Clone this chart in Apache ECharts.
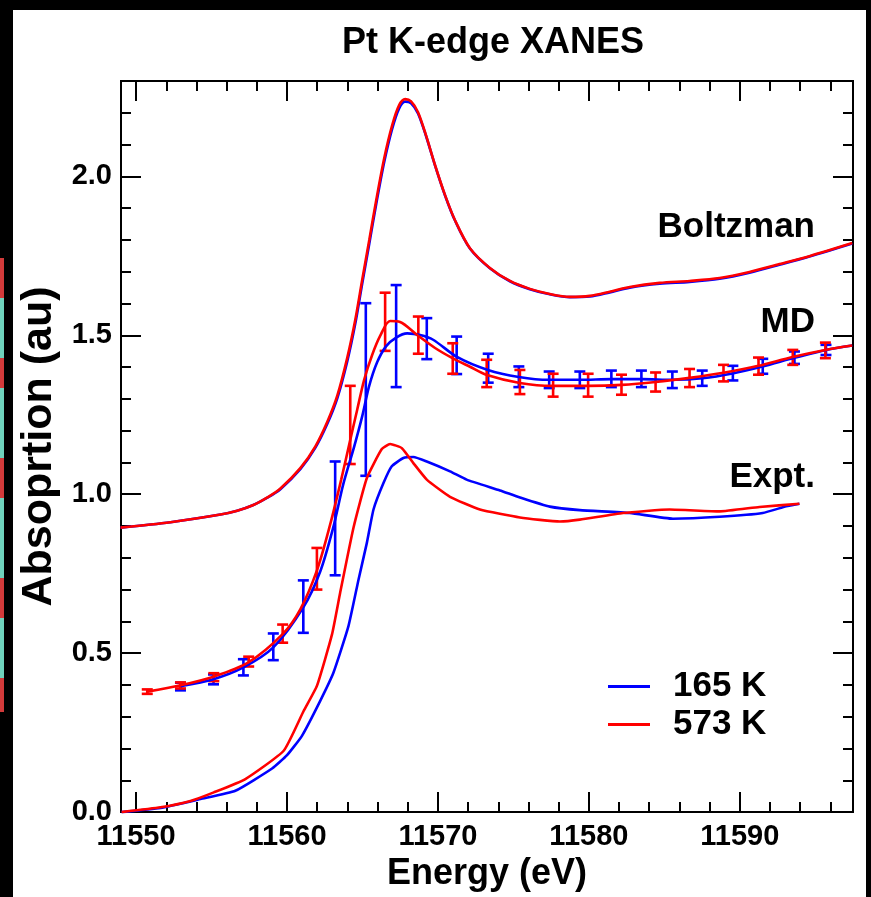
<!DOCTYPE html>
<html><head><meta charset="utf-8">
<script src="https://cdn.jsdelivr.net/npm/echarts@6/dist/echarts.min.js"></script>
<style>html,body{margin:0;padding:0;background:#fff}#c{width:871px;height:897px}</style>
</head><body><div id="c"></div>
<script>
// ---------- tick values ----------
const xMajorTicks = [11550, 11560, 11570, 11580, 11590];
const xMinorTicks = [11550,11552,11554,11556,11558,11560,11562,11564,11566,11568,11570,11572,11574,11576,11578,11580,11582,11584,11586,11588,11590,11592,11594,11596];
const yMajorTicks = [0, 0.5, 1.0, 1.5, 2.0];
const yMinorTicks = [0,0.1,0.2,0.3,0.4,0.5,0.6,0.7,0.8,0.9,1.0,1.1,1.2,1.3,1.4,1.5,1.6,1.7,1.8,1.9,2.0,2.1,2.2,2.3];

// ---------- Boltzman ----------
const boltzE = [11548.97,11552.28,11555.59,11556.70,11557.77,11558.70,11559.56,11560.88,11561.87,11562.67,11563.33,11563.99,11564.52,11564.98,11565.45,11565.91,11566.44,11566.97,11567.43,11567.83,11568.22,11568.68,11569.21,11569.81,11570.47,11571.13,11572.12,11573.44,11574.77,11576.09,11577.41,11578.74,11580.06,11581.38,11582.71,11584.69,11586.67,11588.66,11590.64,11592.63,11594.61,11597.45];
const boltzRed = [0.895,0.912,0.936,0.948,0.966,0.990,1.018,1.082,1.150,1.228,1.310,1.429,1.548,1.674,1.800,1.925,2.057,2.161,2.224,2.243,2.236,2.202,2.129,2.035,1.941,1.862,1.774,1.712,1.671,1.646,1.630,1.621,1.624,1.637,1.652,1.665,1.671,1.680,1.699,1.724,1.749,1.790];
const boltzBlue = [0.895,0.912,0.936,0.948,0.966,0.989,1.016,1.079,1.146,1.222,1.302,1.418,1.536,1.662,1.788,1.913,2.045,2.150,2.214,2.235,2.230,2.198,2.127,2.034,1.940,1.861,1.773,1.711,1.670,1.645,1.629,1.620,1.622,1.635,1.650,1.662,1.668,1.678,1.697,1.722,1.748,1.789];

// ---------- MD ----------
const mdRedE = [11550.74,11552.94,11555.13,11557.44,11559.69,11560.88,11562.00,11562.86,11563.59,11564.19,11564.65,11565.11,11565.64,11566.17,11566.83,11567.49,11568.62,11569.81,11570.93,11572.12,11573.25,11575.43,11577.61,11579.93,11582.18,11584.42,11586.67,11588.92,11591.24,11593.49,11595.67,11597.45];
const mdRed = [0.379,0.399,0.426,0.471,0.559,0.638,0.763,0.905,1.046,1.171,1.266,1.360,1.438,1.498,1.545,1.542,1.501,1.460,1.429,1.401,1.375,1.350,1.341,1.341,1.344,1.353,1.366,1.382,1.404,1.432,1.454,1.468];
const mdBlueE = [11552.94,11555.13,11557.11,11559.09,11561.08,11562.20,11563.06,11563.72,11564.45,11564.98,11565.44,11565.97,11566.57,11567.23,11567.96,11568.82,11569.68,11571.26,11573.31,11575.36,11577.35,11579.40,11581.51,11583.50,11585.55,11587.53,11589.52,11591.50,11593.62,11595.73,11597.45];
const mdBlue = [0.396,0.418,0.455,0.518,0.644,0.757,0.895,1.030,1.150,1.245,1.340,1.415,1.466,1.493,1.506,1.501,1.486,1.432,1.391,1.369,1.360,1.360,1.362,1.362,1.360,1.365,1.380,1.402,1.429,1.454,1.468];

// ---------- MD error bars (low, high) ----------
const errBlueE = [11552.94,11555.13,11557.11,11559.09,11561.08,11563.19,11565.22,11567.23,11569.26,11571.24,11573.33,11575.36,11577.37,11579.40,11581.49,11583.48,11585.53,11587.51,11589.54,11591.52,11593.62,11595.71];
const errBlueLow = [0.383,0.402,0.430,0.478,0.564,0.745,1.058,1.337,1.425,1.378,1.351,1.337,1.334,1.334,1.337,1.337,1.334,1.341,1.358,1.379,1.410,1.438];
const errBlueHigh = [0.407,0.433,0.481,0.562,0.729,1.103,1.601,1.658,1.554,1.496,1.442,1.402,1.386,1.386,1.389,1.389,1.386,1.389,1.404,1.426,1.449,1.470];
const errRedE = [11550.74,11552.94,11555.15,11557.46,11559.71,11561.98,11564.19,11566.50,11568.70,11570.98,11573.23,11575.43,11577.63,11579.95,11582.16,11584.42,11586.67,11588.92,11591.24,11593.51,11595.67];
const errRedLow = [0.372,0.389,0.412,0.458,0.533,0.700,1.095,1.451,1.442,1.379,1.337,1.315,1.307,1.307,1.313,1.323,1.337,1.355,1.376,1.407,1.428];
const errRedHigh = [0.386,0.408,0.437,0.489,0.590,0.831,1.341,1.634,1.559,1.475,1.423,1.391,1.379,1.379,1.376,1.383,1.394,1.407,1.430,1.454,1.477];

// ---------- Expt ----------
const exptBlueE = [11549.04,11551.62,11554.27,11556.58,11559.01,11560.00,11560.99,11562.20,11563.08,11564.07,11564.74,11565.29,11565.73,11566.39,11566.94,11567.71,11568.37,11569.26,11570.80,11571.90,11574.11,11575.43,11577.41,11579.40,11582.71,11585.57,11588.66,11591.52,11593.07,11593.95];
const exptBlue = [0.000,0.013,0.041,0.067,0.137,0.179,0.240,0.350,0.439,0.585,0.732,0.847,0.952,1.035,1.088,1.114,1.117,1.103,1.072,1.046,1.012,0.990,0.961,0.950,0.941,0.923,0.929,0.941,0.962,0.970];
const exptRedE = [11549.04,11551.62,11553.60,11555.15,11557.24,11559.78,11561.10,11561.98,11562.98,11563.52,11564.40,11565.29,11566.28,11566.83,11567.61,11568.37,11569.26,11570.80,11572.78,11575.43,11578.08,11579.40,11582.26,11585.35,11588.66,11591.30,11593.95];
const exptRed = [0.000,0.015,0.035,0.062,0.104,0.193,0.318,0.397,0.559,0.690,0.894,1.051,1.142,1.158,1.145,1.098,1.046,0.992,0.952,0.927,0.914,0.920,0.941,0.952,0.946,0.960,0.970];

const BLUE = '#0000ff', RED = '#ff0000';
const FONT = '"Liberation Sans", Arial, Helvetica, sans-serif';
const zip = (xs, ys) => xs.map((x, i) => [x, ys[i]]);
const zip3 = (xs, a, b) => xs.map((x, i) => [x, a[i], b[i]]);

function lineSeries(name, color, xs, ys, smooth) {
  return { type: 'line', name: name, color: color, data: zip(xs, ys), showSymbol: false, symbol: 'none',
    smooth: smooth, lineStyle: { color: color, width: 2.6 }, animation: false, silent: true, xAxisIndex: 0, yAxisIndex: 0 };
}
function errSeries(name, color, xs, lo, hi) {
  return { type: 'custom', name: name, color: color, data: zip3(xs, lo, hi), xAxisIndex: 0, yAxisIndex: 0,
    encode: { x: 0, y: [1, 2] }, animation: false, silent: true,
    renderItem: function (params, api) {
      const x = api.value(0);
      const a = api.coord([x, api.value(1)]);
      const b = api.coord([x, api.value(2)]);
      const w = 5.5;
      const st = { stroke: color, lineWidth: 2.6 };
      return { type: 'group', children: [
        { type: 'line', shape: { x1: a[0], y1: a[1], x2: b[0], y2: b[1] }, style: st },
        { type: 'line', shape: { x1: a[0] - w, y1: a[1], x2: a[0] + w, y2: a[1] }, style: st },
        { type: 'line', shape: { x1: b[0] - w, y1: b[1], x2: b[0] + w, y2: b[1] }, style: st }
      ] };
    }
  };
}

const axisLine = { show: true, onZero: false, lineStyle: { color: '#000', width: 2 } };
const tickStyle = { color: '#000', width: 2 };
const XMIN = 11549, XMAX = 11597.5, YMIN = 0, YMAX = 2.3;

function xAxis(pos, major, labels) {
  return { type: 'value', position: pos, min: XMIN, max: XMAX, gridIndex: 0,
    axisLine: axisLine, splitLine: { show: false },
    axisTick: { show: true, inside: true, length: major ? 20 : 10, customValues: major ? xMajorTicks : xMinorTicks, lineStyle: tickStyle },
    axisLabel: labels ? { show: true, customValues: xMajorTicks, formatter: v => String(Math.round(v)), fontSize: 29, fontWeight: 'bold', color: '#000', fontFamily: FONT, margin: 10 } : { show: false },
    name: labels ? 'Energy (eV)' : '', nameLocation: 'middle', nameGap: 34,
    nameTextStyle: { fontSize: 36, fontWeight: 'bold', color: '#000', fontFamily: FONT } };
}
function yAxis(pos, major, labels) {
  return { type: 'value', position: pos, min: YMIN, max: YMAX, gridIndex: 0,
    axisLine: axisLine, splitLine: { show: false },
    axisTick: { show: true, inside: true, length: major ? 20 : 10, customValues: major ? yMajorTicks : yMinorTicks, lineStyle: tickStyle },
    axisLabel: labels ? { show: true, customValues: yMajorTicks, formatter: v => v.toFixed(1), fontSize: 29, fontWeight: 'bold', color: '#000', fontFamily: FONT, margin: 9 } : { show: false },
    name: labels ? 'Absoprtion (au)' : '', nameLocation: 'middle', nameGap: 60, nameRotate: 90,
    nameTextStyle: { fontSize: 43, fontWeight: 'bold', color: '#000', fontFamily: FONT } };
}

const chart = echarts.init(document.getElementById('c'), null, { renderer: 'canvas' });
const txt = { fontSize: 35, fontWeight: 'bold', fontFamily: FONT, fill: '#000' };
chart.setOption({
  backgroundColor: '#ffffff',
  animation: false,
  title: { text: 'Pt K-edge XANES', left: 488, top: 20, textAlign: 'center',
    textStyle: { fontSize: 36, fontWeight: 'bold', color: '#000', fontFamily: FONT } },
  grid: { left: 121, top: 81, width: 732, height: 732, containLabel: false },
  xAxis: [xAxis('bottom', true, true), xAxis('bottom', false, false), xAxis('top', true, false), xAxis('top', false, false)],
  yAxis: [yAxis('left', true, true), yAxis('left', false, false), yAxis('right', true, false), yAxis('right', false, false)],
  legend: { orient: 'vertical', left: 603, top: 664, itemWidth: 42, itemHeight: 3, itemGap: 3, icon: 'rect',
    selectedMode: false,
    data: [ { name: '165 K', itemStyle: { color: BLUE } }, { name: '573 K', itemStyle: { color: RED } } ],
    textStyle: { fontSize: 35, fontWeight: 'bold', color: '#000', fontFamily: FONT, padding: [0, 0, 0, 18] } },
  graphic: [
    { type: 'rect', shape: { x: 0, y: 0, width: 871, height: 10 }, style: { fill: '#000' }, silent: true },
    { type: 'rect', shape: { x: 0, y: 0, width: 13, height: 897 }, style: { fill: '#000' }, silent: true },
    { type: 'rect', shape: { x: 866, y: 0, width: 5, height: 897 }, style: { fill: '#000' }, silent: true },
    { type: 'rect', shape: { x: 0, y: 258, width: 4, height: 40 }, style: { fill: '#d23a3a' }, silent: true },
    { type: 'rect', shape: { x: 0, y: 298, width: 4, height: 60 }, style: { fill: '#6fd3bd' }, silent: true },
    { type: 'rect', shape: { x: 0, y: 358, width: 4, height: 30 }, style: { fill: '#d23a3a' }, silent: true },
    { type: 'rect', shape: { x: 0, y: 388, width: 4, height: 70 }, style: { fill: '#6fd3bd' }, silent: true },
    { type: 'rect', shape: { x: 0, y: 458, width: 4, height: 40 }, style: { fill: '#d23a3a' }, silent: true },
    { type: 'rect', shape: { x: 0, y: 498, width: 4, height: 80 }, style: { fill: '#6fd3bd' }, silent: true },
    { type: 'rect', shape: { x: 0, y: 578, width: 4, height: 40 }, style: { fill: '#d23a3a' }, silent: true },
    { type: 'rect', shape: { x: 0, y: 618, width: 4, height: 60 }, style: { fill: '#6fd3bd' }, silent: true },
    { type: 'rect', shape: { x: 0, y: 678, width: 4, height: 34 }, style: { fill: '#d23a3a' }, silent: true },
    { type: 'text', x: 815, y: 227, style: Object.assign({ text: 'Boltzman', align: 'right', verticalAlign: 'middle' }, txt), silent: true },
    { type: 'text', x: 815, y: 322, style: Object.assign({ text: 'MD', align: 'right', verticalAlign: 'middle' }, txt), silent: true },
    { type: 'text', x: 815, y: 477, style: Object.assign({ text: 'Expt.', align: 'right', verticalAlign: 'middle' }, txt), silent: true }
  ],
  series: [
    lineSeries('165 K', BLUE, boltzE, boltzBlue, 0.3),
    lineSeries('165 K', BLUE, mdBlueE, mdBlue, 0.3),
    errSeries('165 K', BLUE, errBlueE, errBlueLow, errBlueHigh),
    lineSeries('165 K', BLUE, exptBlueE, exptBlue, 0.15),
    lineSeries('573 K', RED, boltzE, boltzRed, 0.3),
    lineSeries('573 K', RED, mdRedE, mdRed, 0.3),
    errSeries('573 K', RED, errRedE, errRedLow, errRedHigh),
    lineSeries('573 K', RED, exptRedE, exptRed, 0.15)
  ]
});
</script>
</body></html>
